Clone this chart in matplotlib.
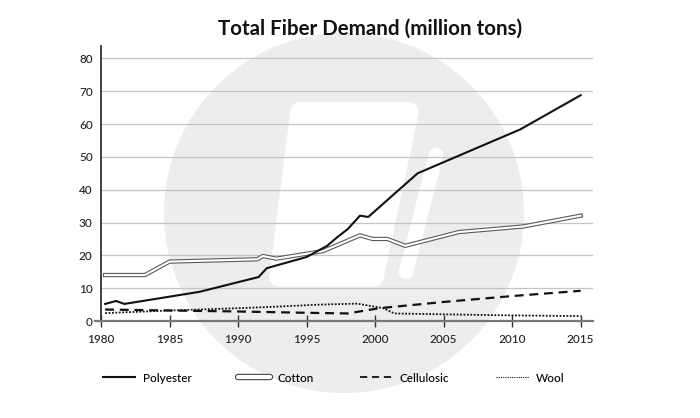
import matplotlib
matplotlib.use("Agg")
import matplotlib.pyplot as plt
from matplotlib.lines import Line2D
from matplotlib.patches import Circle, Polygon
from matplotlib.legend_handler import HandlerTuple

plt.rcParams['font.family'] = ['Lato', 'DejaVu Sans']

# data
poly_years = [1980.3, 1981.1, 1981.7, 1987.2, 1991.5, 1992.1, 1995.0, 1996.5,
              1997.2, 1998.0, 1998.9, 1999.5, 2003.1, 2010.6, 2015.0]
poly_vals = [5.2, 6.1, 5.2, 8.9, 13.4, 16.1, 19.5, 22.9,
             25.4, 28.0, 32.1, 31.7, 45.0, 58.4, 68.8]

cotton_years = [1980.3, 1983.2, 1985.0, 1991.4, 1991.8, 1992.8, 1995.0, 1996.2,
                1998.9, 1999.8, 2000.9, 2002.2, 2006.1, 2010.8, 2015.0]
cotton_vals = [14.0, 14.0, 18.1, 18.8, 19.8, 19.0, 20.5, 21.3,
               26.1, 25.0, 25.0, 22.9, 27.1, 28.8, 32.1]

cell_years = [1980.3, 1985.0, 1990.0, 1995.0, 1998.0, 2000.3, 2005.0, 2010.0, 2015.0]
cell_vals = [3.5, 3.2, 2.9, 2.5, 2.3, 3.9, 5.8, 7.6, 9.2]

wool_years = [1980.3, 1985.0, 1990.0, 1992.4, 1996.0, 1998.7, 2000.6, 2001.4,
              2005.5, 2010.0, 2015.0]
wool_vals = [2.4, 3.2, 3.9, 4.3, 5.0, 5.3, 3.9, 2.3, 2.0, 1.7, 1.5]

x_ticks = [1980, 1985, 1990, 1995, 2000, 2005, 2010, 2015]
y_ticks = [0, 10, 20, 30, 40, 50, 60, 70, 80]

fig = plt.figure(figsize=(7, 4.18), dpi=100)

# background watermark (pixel coords)
bg = fig.add_axes([0, 0, 1, 1], zorder=0)
bg.set_xlim(0, 700)
bg.set_ylim(418, 0)
bg.axis('off')
bg.add_patch(Circle((344, 213), 180, color='#ededed', lw=0))
bg.add_patch(Polygon([(300, 112), (409, 112), (374, 277), (279, 277)], closed=True,
                     facecolor='white', edgecolor='white', lw=14, joinstyle='round'))
bg.plot([436, 406], [155, 272], color='white', lw=10.5, solid_capstyle='round')

ax = fig.add_axes([101 / 700, 97 / 418, 492 / 700, 275 / 418], zorder=1)
ax.set_facecolor('none')

ax.plot(poly_years, poly_vals, color='#111111', lw=1.5, zorder=5)
ax.plot(cotton_years, cotton_vals, color='#5a5a5a', lw=3.1, zorder=3)
ax.plot(cotton_years, cotton_vals, color='white', lw=1.5, zorder=4)
ax.plot(cell_years, cell_vals, color='#111111', lw=1.6, ls=(0, (4, 2.6)), zorder=4)
ax.plot(wool_years, wool_vals, color='#111111', lw=1.3, ls=(0, (1, 0.9)), zorder=4)

ax.set_xlim(1980, 2015.9)
ax.set_ylim(0, 83.8)
ax.set_xticks(x_ticks)
ax.set_yticks(y_ticks)
ax.yaxis.grid(True, color='#c4c4c4', lw=0.9)
ax.set_axisbelow(True)

for s in ['top', 'right']:
    ax.spines[s].set_visible(False)
ax.spines['left'].set_color('#333333')
ax.spines['left'].set_linewidth(1.3)
ax.spines['bottom'].set_color('#777777')
ax.spines['bottom'].set_linewidth(1.6)
ax.spines['bottom'].set_bounds(1979.55, 2015.9)

ax.tick_params(axis='x', direction='inout', length=9, width=1, color='#333333',
               pad=5, labelsize=8.5, labelcolor='#222222')
ax.tick_params(axis='y', length=0, pad=6, labelsize=8.5, labelcolor='#222222')
for lab in ax.get_xticklabels() + ax.get_yticklabels():
    lab.set_fontweight('medium')

fig.text(0.528, 0.931, 'Total Fiber Demand (million tons)', ha='center', va='center',
         fontsize=14.8, fontweight='bold', color='#111111')

h_poly = Line2D([], [], color='#111111', lw=1.5)
h_cot = (Line2D([], [], color='#444444', lw=4.6, solid_capstyle='round'),
         Line2D([], [], color='white', lw=3.0, solid_capstyle='round'))
h_cell = Line2D([], [], color='#111111', lw=1.3, ls=(0, (4, 2.6)))
h_wool = Line2D([], [], color='#111111', lw=0.8, ls=(0, (1, 1)))
leg = fig.legend([h_poly, h_cot, h_cell, h_wool],
                 ['Polyester', 'Cotton', 'Cellulosic', 'Wool'],
                 handler_map={tuple: HandlerTuple(ndivide=1, pad=0)},
                 loc='center left', bbox_to_anchor=(103 / 700, 1 - 378 / 418),
                 ncol=4, frameon=False, fontsize=8.5, handlelength=2.75,
                 handletextpad=0.6, columnspacing=3.95, borderpad=0, borderaxespad=0)
for t in leg.get_texts():
    t.set_fontweight('medium')

fig.savefig('out.png', dpi=100)
